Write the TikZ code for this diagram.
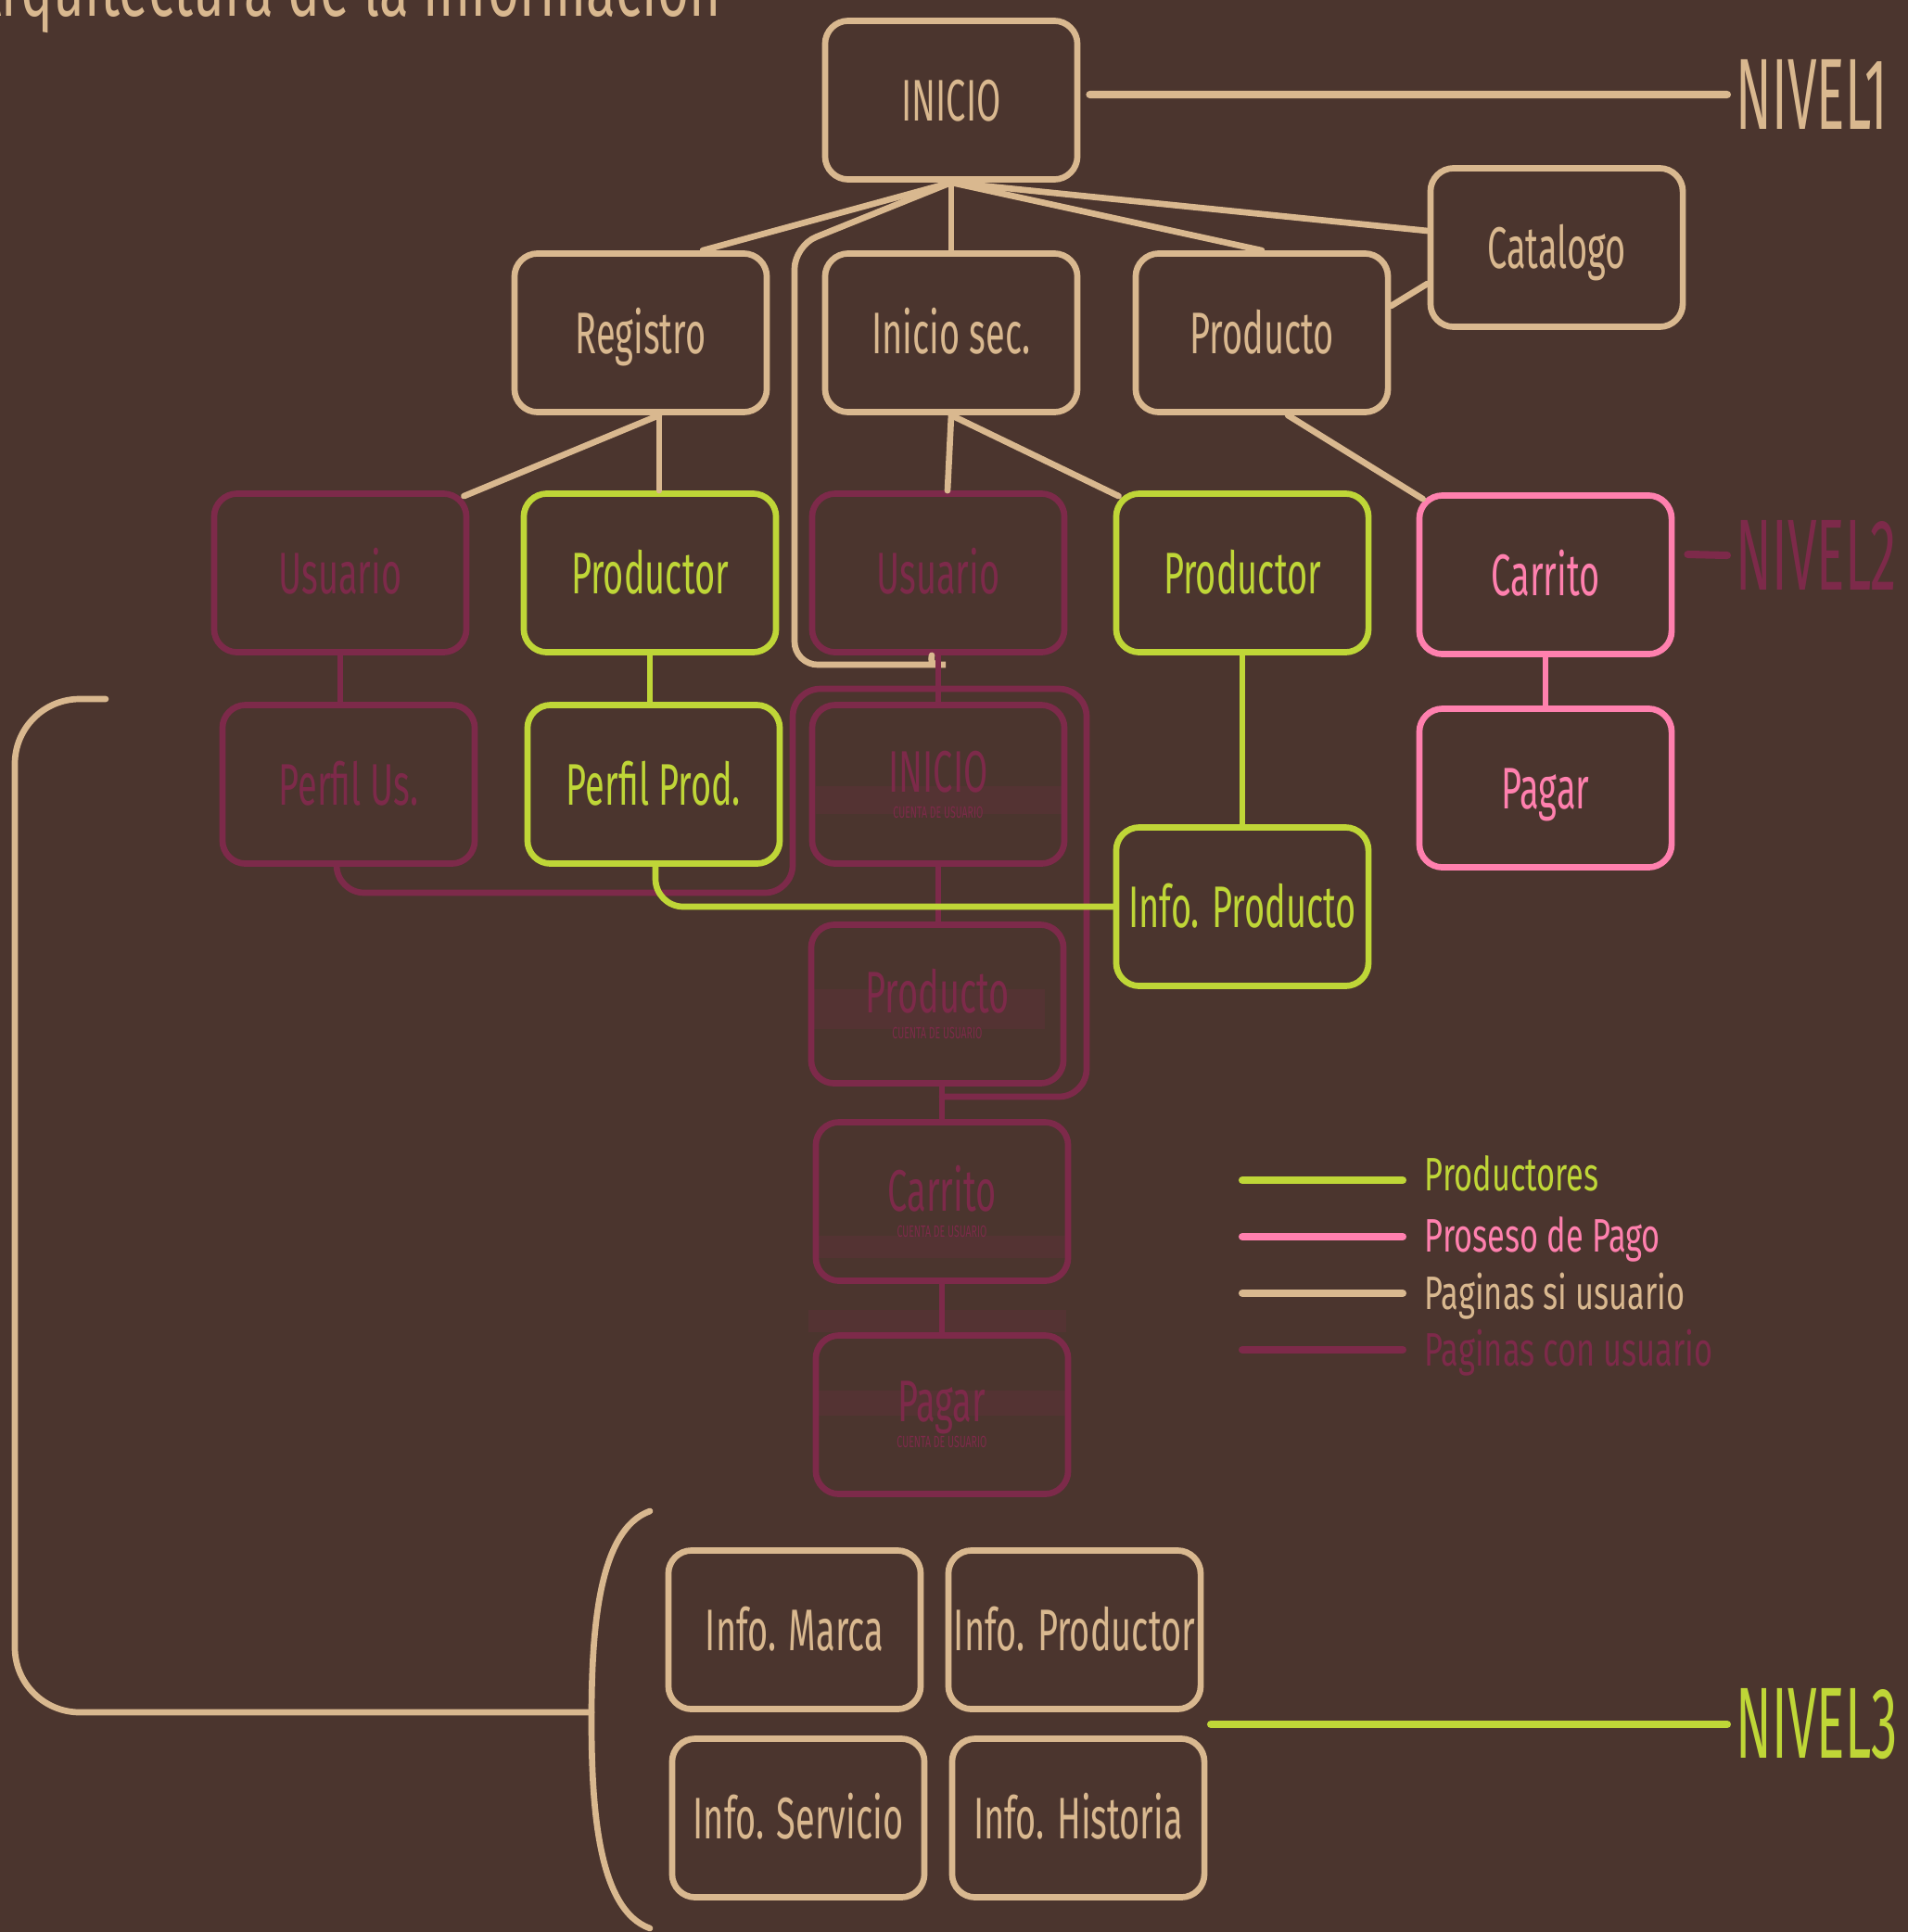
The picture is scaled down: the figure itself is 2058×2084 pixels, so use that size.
\documentclass[tikz,border=0pt]{standalone}
\usepackage{fontspec}
\setmainfont{Fira Sans}
\newfontfamily\condfont[FakeStretch=0.68]{Fira Sans}
\newfontfamily\cajafont[FakeStretch=0.6]{Fira Sans}
\newfontfamily\nivfont[FakeStretch=0.52]{Fira Sans}
\definecolor{fondo}{HTML}{4B352E}
\definecolor{arena}{HTML}{D9B88F}
\definecolor{lima}{HTML}{BFD637}
\definecolor{rosa}{HTML}{FF80AE}
\definecolor{vino}{HTML}{7D2A4A}
\newcommand{\cuentatxt}{{\fontsize{5}{6}\selectfont CUENTA DE USUARIO}}

\begin{document}
\begin{tikzpicture}[x=0.01cm, y=-0.01cm,
    caja/.style={draw, line width=1.9pt, rounded corners=0.25cm,
        minimum width=2.72cm, minimum height=1.71cm, inner sep=0pt,
        text height=0.44cm, text depth=0cm,
        font=\cajafont\fontsize{18}{20}\selectfont},
    cuenta/.style={draw=vino, text=vino, line width=1.9pt, rounded corners=0.25cm,
        minimum width=2.72cm, minimum height=1.71cm, inner sep=0pt, align=center,
        font={\cajafont\fontsize{18}{20}\selectfont\lineskiplimit=-20pt}},
    enlace/.style={line width=1.9pt, line cap=round},
    nivel/.style={anchor=west, inner sep=0.09cm, font=\nivfont\fontsize{31}{36}\selectfont},
    leyenda/.style={anchor=base west, inner sep=0pt, font=\condfont\fontsize{14.4}{17}\selectfont},
    franja/.style={fill=vino, fill opacity=0.18}]
    \useasboundingbox (0,0) rectangle (2058,2084);
    \fill[fondo] (0,0) rectangle (2058,2084);
    \clip (0,0) rectangle (2058,2084);
    \node[anchor=base east, inner sep=0pt, text=arena,
        font=\condfont\fontsize{24.4}{28}\selectfont] (titulo) at (778,17) {Arquitectura de la información};

    % nivel 1
    \node[caja, color=arena] (ini) at (1026,108) {INICIO};
    \node[caja, color=arena] (reg) at (691,359) {Registro};
    \node[caja, color=arena] (ises) at (1026,359) {Inicio sec.};
    \node[caja, color=arena] (prod) at (1361,359) {Producto};
    \node[caja, color=arena] (cat) at (1679,267) {Catalogo};
    % nivel 2
    \node[caja, color=vino] (usu1) at (367,618) {Usuario};
    \node[caja, color=lima] (pdr1) at (701,618) {Productor};
    \node[caja, color=vino] (usu2) at (1012,618) {Usuario};
    \node[caja, color=lima] (pdr2) at (1340,618) {Productor};
    \node[caja, color=rosa] (car) at (1667,620) {Carrito};
    \node[caja, color=vino] (pus) at (376,846) {Perfil Us.};
    \node[caja, color=lima] (ppr) at (705,846) {Perfil Prod.};
    \node[caja, color=rosa] (pag) at (1667,850) {Pagar};
    \node[caja, color=lima] (infp) at (1340,978) {Info. Producto};
    % cuenta de usuario
    \fill[franja] (880,848) rectangle (1150,878);
    \fill[franja] (873,1067) rectangle (1127,1110);
    \fill[franja] (878,1333) rectangle (1154,1357);
    \fill[franja] (872,1413) rectangle (1150,1437);
    \fill[franja] (880,1500) rectangle (1152,1527);
    \node[cuenta] (cini) at (1012,846) {INICIO\\[-12pt]\cuentatxt};
    \node[cuenta] (cprod) at (1011,1083) {Producto\\[-12pt]\cuentatxt};
    \node[cuenta] (ccar) at (1016,1296) {Carrito\\[-12pt]\cuentatxt};
    \node[cuenta] (cpag) at (1016,1526) {Pagar\\[-12pt]\cuentatxt};
    % nivel 3
    \node[caja, color=arena] (imar) at (857,1758) {Info. Marca};
    \node[caja, color=arena] (ipdr) at (1159,1758) {Info. Productor};
    \node[caja, color=arena] (iser) at (861,1961) {Info. Servicio};
    \node[caja, color=arena] (ihis) at (1163,1961) {Info. Historia};

    % enlaces sin usuario
    \draw[enlace, arena] (ini.south) -- ([xshift=0.67cm]reg.north);
    \draw[enlace, arena, rounded corners=0.25cm] (ini.south) -- (857,265) -- (857,717)
        -- (995,717) to[out=0, in=-90] ([xshift=-0.07cm]usu2.south);
    \draw[enlace, arena] (ini.south) -- (ises.north);
    \draw[enlace, arena] (ini.south) -- (prod.north);
    \draw[enlace, arena] (ini.south) -- ([yshift=0.18cm]cat.west);
    \draw[enlace, arena] ([yshift=0.29cm]prod.east) -- ([yshift=-0.39cm]cat.west);
    \coordinate (rb) at ([xshift=0.2cm]reg.south);
    \draw[enlace, arena] (rb) -- ([xshift=-0.06cm,yshift=-0.06cm]usu1.north east);
    \draw[enlace, arena] (rb) -- (rb |- pdr1.north);
    \draw[enlace, arena] (ises.south) -- ([xshift=0.1cm]usu2.north);
    \draw[enlace, arena] (ises.south) -- ([xshift=0.06cm,yshift=-0.06cm]pdr2.north west);
    \draw[enlace, arena] ([xshift=0.28cm]prod.south) -- ([xshift=0.07cm,yshift=-0.07cm]car.north west);

    % enlaces con usuario
    \draw[enlace, vino] (usu1.south) -- (usu1.south |- pus.north);
    \draw[enlace, vino] (usu2.south) -- (cini.north);
    \draw[enlace, vino] (cini.south) -- (cini.south |- cprod.north);
    \draw[enlace, vino] (ccar.north |- cprod.south) -- (ccar.north);
    \draw[enlace, vino] (ccar.south) -- (cpag.north);
    \coordinate (pb) at ([xshift=-0.13cm]pus.south);
    \coordinate (eb) at (1016,1183);
    \draw[enlace, vino, rounded corners=0.3cm] (pb) |- (855,963) |- (1172,743) |- (eb);
    \draw[enlace, rosa] (car.south) -- (pag.north);
    \draw[enlace, lima] (pdr1.south) -- (pdr1.south |- ppr.north);
    \draw[enlace, lima] (pdr2.south) -- (infp.north);
    \draw[enlace, lima, rounded corners=0.3cm] ([xshift=0.02cm]ppr.south) |- (infp.west);

    % llaves
    \draw[enlace, arena, rounded corners=0.7cm] (114,754) -- (16,754) -- (16,1847) -- (638,1847);
    \draw[enlace, arena] (701,1630) .. controls (645,1650) and (638,1760) .. (638,1855)
        .. controls (638,1950) and (645,2060) .. (701,2080);

    % niveles
    \node[nivel, text=arena] (niv1) at (1863,102) {NIVEL1};
    \node[nivel, text=vino] (niv2) at (1863,599) {NIVEL2};
    \node[nivel, text=lima] (niv3) at (1863,1860) {NIVEL3};
    \draw[enlace, arena, line width=2.3pt] ([xshift=0.1cm,yshift=0.06cm]ini.east) -- (niv1.west);
    \draw[enlace, vino, line width=2.3pt] ([xshift=0.14cm,yshift=0.22cm]car.east) -- (niv2.west);
    \coordinate (n3) at (1306,1860);
    \draw[enlace, lima, line width=2.3pt] (n3) -- (niv3.west);

    % leyenda
    \node[leyenda, text=lima] (ley1) at (1536,1284) {Productores};
    \node[leyenda, text=rosa] (ley2) at (1536,1350) {Proseso de Pago};
    \node[leyenda, text=arena] (ley3) at (1536,1412) {Paginas si usuario};
    \node[leyenda, text=vino] (ley4) at (1536,1473) {Paginas con usuario};
    \draw[enlace, lima, line width=2.3pt] (1340,1273) -- (1513,1273);
    \draw[enlace, rosa, line width=2.3pt] (1340,1334) -- (1513,1334);
    \draw[enlace, arena, line width=2.3pt] (1340,1395) -- (1513,1395);
    \draw[enlace, vino, line width=2.3pt] (1340,1456) -- (1513,1456);
\end{tikzpicture}
\end{document}
